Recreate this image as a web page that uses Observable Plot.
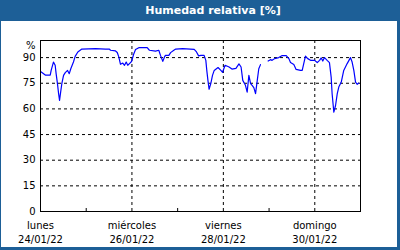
<!DOCTYPE html>
<html><head><meta charset="utf-8">
<script src="https://cdn.jsdelivr.net/npm/d3@7"></script>
<script src="https://cdn.jsdelivr.net/npm/@observablehq/plot@0.6"></script>
<style>
html,body{margin:0;padding:0;background:#fff;}
#box{position:relative;width:400px;height:250px;background:#1d5f97;overflow:hidden;font-family:"DejaVu Sans",Verdana,sans-serif;}
#title{position:absolute;left:26px;top:0;width:374px;height:21px;line-height:21px;text-align:center;color:#fff;font-weight:bold;font-size:11px;}
#panel{position:absolute;left:1px;top:21px;width:396px;height:226px;background:#fff;}
#chart{position:absolute;left:0;top:0;}
</style></head><body>
<div id="box"><div id="title">Humedad relativa [%]</div><div id="panel"></div><div id="chart"></div></div>
<script>
const startDate = "2022-01-24T00:00Z";
const endDate = "2022-01-31T00:00Z";
// hours since 24/01/22 00:00 ; NaN marks the data gap
const hours = [0.4,2.5,5.1,5.6,6.8,7.7,8.2,8.9,9.5,10.0,10.7,11.2,12.1,13.0,14.2,15.1,15.9,17.3,18.2,19.6,21.7,28.9,34.1,36.2,36.75,39.4,40.3,41.1,42.0,43.2,44.1,45.0,45.8,46.7,47.8,49.0,49.9,51.6,56.0,57.2,60.4,62.1,63.0,64.2,65.1,65.6,67.4,68.3,70.0,71.0,74.6,80.7,81.9,83.0,84.2,85.9,86.8,87.3,87.9,88.5,89.4,90.3,91.2,93.2,94.7,95.6,96.9,99.0,100.5,102.6,104.2,105.3,106.2,107.6,108.5,109.4,110.3,111.1,112.0,112.9,113.8,114.6,115.5,117.5,119.5,120.75,121.6,122.9,125.1,126.9,129.0,130.4,131.25,133.0,134.2,136.5,137.4,138.2,139.1,140.3,141.75,143.9,145.3,146.5,147.4,148.2,149.1,150.5,151.7,152.6,153.1,154.0,154.9,155.8,156.6,157.9,159.2,161.0,162.75,163.6,164.5,165.4,166.3,167.1];
const humidity = [81.6,79.8,79.8,82.5,87.4,85.5,80.6,74.8,68.9,65,70.8,74.8,79.6,81.2,82.5,80.6,83.5,87.4,90.7,93.3,95,95.2,95,95,94.3,93.9,93,90.4,86.1,86.8,85.5,87.4,85.5,86.5,87.7,92.3,94.7,95.8,95.8,94.3,93.8,94.3,91.3,87.8,90.4,91.3,91.3,92.9,94.3,95,95.3,94.8,93.3,91,91.3,91.3,88.4,82.5,76.7,71.5,74.8,79.6,82.5,84.2,82.5,81.4,85.5,84.5,83.3,83.7,86.3,84.5,76.7,73.8,69.8,79.6,74.8,73.8,72.4,68.9,76.7,83.5,85.9,NaN,88,88.8,88.4,89.4,90,91.2,91.2,89.4,87.1,85.9,83.1,82.5,82.5,86.5,90.9,89.4,88.4,88.4,87.1,88.4,89.8,88,90,88.4,87.1,78.6,68.9,58.1,62,68.9,72.8,75.7,82.5,86.5,90,87.4,82.5,75.7,74.4,75.1];
const yTicks = [0,15,30,45,60,75,90];
const yGrid = [15,30,45,60,75,90];
const unitTick = [100];
const unitLabel = "%";
const majorDates = ["2022-01-24","2022-01-26","2022-01-28","2022-01-30"];
const dayNames = ["lunes","miércoles","viernes","domingo"];
const dateLabels = ["24/01/22","26/01/22","28/01/22","30/01/22"];
const gridDates = ["2022-01-26","2022-01-28","2022-01-30"];
const minorDates = ["2022-01-25","2022-01-27","2022-01-29"];

const t0 = new Date(startDate).getTime();
const data = hours.map((h, i) => ({t: new Date(t0 + h * 3600e3), h: humidity[i]}));
const toD = s => new Date(s + "T00:00Z");
const majorD = majorDates.map(toD);
const dayMap = new Map(majorD.map((d, i) => [+d, dayNames[i]]));
const dateMap = new Map(majorD.map((d, i) => [+d, dateLabels[i]]));
const dash = {stroke: "#000", strokeOpacity: 1, strokeDasharray: "3,3"};

const chart = Plot.plot({
  width: 400, height: 250,
  marginTop: 40, marginRight: 40, marginBottom: 39, marginLeft: 40,
  style: {background: "transparent", color: "#000", fontFamily: "'DejaVu Sans', Verdana, sans-serif", fontSize: "10px"},
  x: {type: "utc", domain: [new Date(startDate), new Date(endDate)]},
  y: {domain: [0, 100]},
  marks: [
    Plot.gridY(yGrid, dash),
    Plot.gridX(gridDates.map(toD), dash),
    Plot.lineY(data, {x: "t", y: "h", stroke: "#0000ff", strokeWidth: 1.2}),
    Plot.frame({stroke: "#000"}),
    Plot.axisY(yTicks, {tickSize: 0, tickPadding: 5, label: null}),
    Plot.axisY(unitTick, {tickSize: 0, tickPadding: 5, dy: 5, tickFormat: () => unitLabel, label: null}),
    Plot.axisX(majorD, {tickSize: 0, tickPadding: 10, tickFormat: d => dayMap.get(+d), label: null}),
    Plot.axisX(majorD, {tickSize: 0, tickPadding: 24, tickFormat: d => dateMap.get(+d), label: null}),
    Plot.axisX(minorDates.map(toD), {tickSize: -3, tickFormat: () => "", label: null})
  ]
});
document.getElementById("chart").appendChild(chart);
</script>
</body></html>
